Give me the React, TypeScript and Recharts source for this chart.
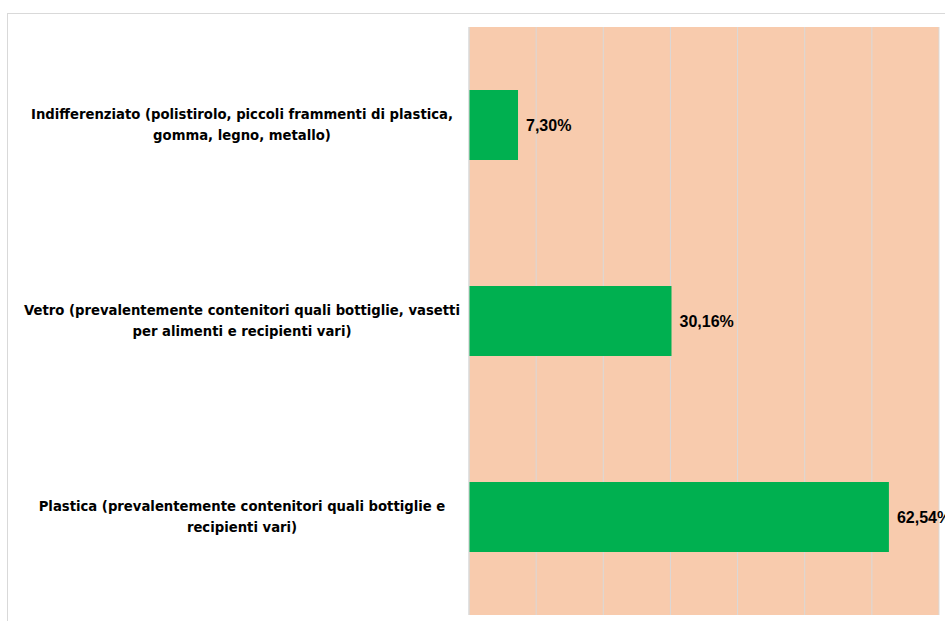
import React from "react";
import { BarChart, Bar, XAxis, YAxis, CartesianGrid, LabelList } from "recharts";

const categories = [
  "Indifferenziato (polistirolo, piccoli frammenti di plastica,\ngomma, legno, metallo)",
  "Vetro (prevalentemente contenitori quali bottiglie, vasetti\nper alimenti e recipienti vari)",
  "Plastica (prevalentemente contenitori quali bottiglie e\nrecipienti vari)",
];
const values = [7.3, 30.16, 62.54];
const xTicks = [0, 10, 20, 30, 40, 50, 60, 70];

const data = categories.map((c, i) => ({ name: c, value: values[i] }));

const catFont = "'Liberation Sans Narrow', 'Arial Narrow', 'DejaVu Sans Condensed', 'Liberation Sans', sans-serif";
const labelFont = "'Liberation Sans', Arial, sans-serif";

const CategoryTick = (props: any) => {
  const { x, y, payload } = props;
  const lines = String(payload.value).split("\n");
  const cx = x - 219;
  return (
    <text x={cx} y={y} textAnchor="middle" fontFamily={catFont} fontWeight="bold" fontSize={14.7} fill="#000">
      {lines.map((l, i) => (
        <tspan key={i} x={cx} y={y + (i - (lines.length - 1) / 2) * 21.5 - 1} dominantBaseline="central">
          {l}
        </tspan>
      ))}
    </text>
  );
};

const fmt = (v: any) => Number(v).toFixed(2).replace(".", ",") + "%";

export default function App() {
  return (
    <div style={{ position: "absolute", left: 0, top: 0, width: 945, height: 621, overflow: "hidden", background: "#fff" }}>
      <div
        style={{
          position: "absolute",
          left: 7,
          top: 13,
          width: 1000,
          height: 700,
          border: "1px solid #d9d9d9",
          boxSizing: "border-box",
        }}
      />
      <div style={{ position: "absolute", left: 0, top: 0 }}>
        <BarChart
          width={945}
          height={621}
          data={data}
          layout="vertical"
          margin={{ top: 27, right: 6, bottom: 6, left: 0 }}
          barCategoryGap="32%"
        >
          <CartesianGrid horizontal={false} vertical={true} stroke="#d9d9d9" strokeWidth={1} fill="#f8cbad" />
          <XAxis type="number" domain={[0, 70]} ticks={xTicks} hide />
          <YAxis
            type="category"
            dataKey="name"
            width={469}
            axisLine={{ stroke: "#d9d9d9" }}
            tickLine={false}
            tick={<CategoryTick />}
            interval={0}
          />
          <Bar dataKey="value" fill="#00b050" barSize={70} isAnimationActive={false}>
            <LabelList
              dataKey="value"
              position="right"
              offset={8}
              formatter={fmt}
              fill="#000"
              fontWeight="bold"
              fontSize={16}
              fontFamily={labelFont}
            />
          </Bar>
        </BarChart>
      </div>
    </div>
  );
}
